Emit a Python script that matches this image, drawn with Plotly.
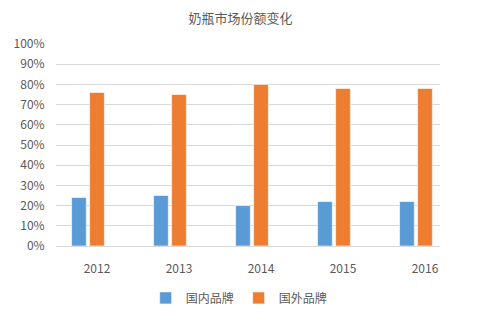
import plotly.graph_objects as go

years = ["2012", "2013", "2014", "2015", "2016"]
domestic = [24, 25, 20, 22, 22]
foreign = [76, 75, 80, 78, 78]
series_names = ["国内品牌", "国外品牌"]
y_ticks = [0, 10, 20, 30, 40, 50, 60, 70, 80, 90, 100]
y_tick_labels = [f"{v}%" for v in y_ticks]

font_fam = "Noto Sans CJK SC, Noto Sans, sans-serif"
grey = "#595959"

fig = go.Figure()
fig.add_trace(go.Bar(
    x=years, y=domestic, name=series_names[0],
    marker=dict(color="#5B9BD5", line=dict(color="rgba(255,255,255,0.6)", width=1)),
    width=0.18, offset=-0.31,
))
fig.add_trace(go.Bar(
    x=years, y=foreign, name=series_names[1],
    marker=dict(color="#ED7D31", line=dict(color="rgba(255,255,255,0.6)", width=1)),
    width=0.18, offset=-0.09,
))

fig.update_layout(
    width=481, height=324,
    margin=dict(l=56, r=41, t=44, b=74),
    paper_bgcolor="white", plot_bgcolor="white",
    font=dict(family=font_fam, size=12, color=grey),
    title=dict(text="奶瓶市场份额变化", x=0.5, xanchor="center", y=1 - 18 / 324,
               yanchor="middle", font=dict(size=13, color=grey)),
    barmode="overlay",
    showlegend=True,
    legend=dict(orientation="h", x=0.477, xanchor="center", y=-0.257, yanchor="middle",
                font=dict(size=12, color=grey), itemwidth=30, traceorder="normal"),
    xaxis=dict(type="category", range=[-0.5, 4.183], showgrid=False,
               showline=False, zeroline=False,
               ticks="outside", ticklen=12, tickcolor="rgba(0,0,0,0)",
               tickfont=dict(size=12, color=grey)),
    yaxis=dict(range=[0, 100], tickvals=y_ticks, ticktext=y_tick_labels,
               showgrid=True, gridcolor="#D9D9D9", gridwidth=1,
               zeroline=True, zerolinecolor="#D9D9D9", zerolinewidth=1,
               showline=False,
               ticks="outside", ticklen=8, tickcolor="rgba(0,0,0,0)",
               tickfont=dict(size=12, color=grey)),
)

fig.write_html("out.html")
